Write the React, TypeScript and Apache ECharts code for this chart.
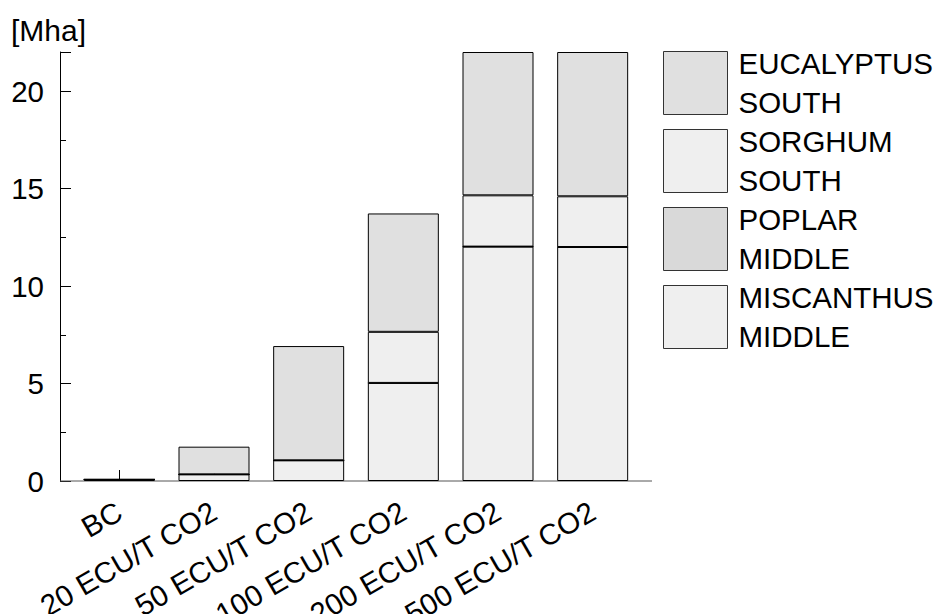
import React, { useEffect, useRef } from "react";
import * as echarts from "echarts";

const categories = ["BC", "20 ECU/T CO2", "50 ECU/T CO2", "100 ECU/T CO2", "200 ECU/T CO2", "500 ECU/T CO2"];
const miscanthusMiddle = [0.08, 0.34, 1.06, 5.03, 12.02, 12.0];
const poplarMiddle = [0, 0, 0, 0, 0, 0];
const sorghumSouth = [0, 0, 0, 2.62, 2.63, 2.6];
const eucalyptusSouth = [0, 1.42, 5.86, 6.07, 7.35, 7.4];
const yTicks = [0, 5, 10, 15, 20];
const yMax = 22;

const FONT = "'Liberation Sans', Arial, sans-serif";
const FS = 29.5;

export default function App() {
  const ref = useRef<HTMLDivElement>(null);
  useEffect(() => {
    document.body.style.margin = "0";
    const chart = echarts.init(ref.current!, null, { renderer: "svg" });
    const mk = (name: string, data: number[], color: string) => ({
      name,
      type: "bar",
      stack: "total",
      data,
      barWidth: 71,
      itemStyle: { color, borderColor: "#000", borderWidth: 1 },
    });
    chart.setOption({
      animation: false,
      textStyle: { fontFamily: FONT },
      grid: { left: 72, right: 304, top: 52, bottom: 133, containLabel: false, outerBoundsMode: "none" },
      xAxis: {
        type: "category",
        data: categories,
        axisLine: { show: false },
        axisTick: { show: true, inside: true, length: 11, alignWithLabel: true, interval: 0, lineStyle: { color: "#000" } },
        axisLabel: { rotate: 30, interval: 0, fontSize: FS, color: "#000", margin: 28, fontFamily: FONT },
      },
      yAxis: {
        type: "value",
        min: 0,
        max: yMax,
        interval: 5,
        offset: 12,
        splitLine: { show: false },
        axisLine: { show: true, lineStyle: { color: "#000" } },
        axisTick: { show: true, inside: true, length: 11, lineStyle: { color: "#000" } },
        minorTick: { show: true, splitNumber: 2, length: 6, lineStyle: { color: "#000" } },
        axisLabel: {
          fontSize: FS,
          color: "#000",
          margin: 16,
          fontFamily: FONT,
          formatter: (v: number) => (yTicks.includes(v) ? String(v) : ""),
        },
      },
      legend: {
        orient: "vertical",
        left: 663,
        top: 44,
        padding: 0,
        itemWidth: 64,
        itemHeight: 63,
        itemGap: 0,
        icon: "rect",
        data: ["EUCALYPTUS\nSOUTH", "SORGHUM\nSOUTH", "POPLAR\nMIDDLE", "MISCANTHUS\nMIDDLE"],
        itemStyle: { borderColor: "#333", borderWidth: 1 },
        textStyle: { fontSize: FS, lineHeight: 39, color: "#000", fontFamily: FONT, padding: [0, 0, 0, 6] },
      },
      graphic: [
        { type: "line", shape: { x1: 60, y1: 481, x2: 652, y2: 481 }, style: { stroke: "#555", lineWidth: 1 }, z: 1 },
        { type: "text", left: 11, top: 15, style: { text: "[Mha]", fontSize: 30, fill: "#000", fontFamily: FONT } },
      ],
      series: [
        mk("MISCANTHUS\nMIDDLE", miscanthusMiddle, "#efefef"),
        mk("POPLAR\nMIDDLE", poplarMiddle, "#d9d9d9"),
        mk("SORGHUM\nSOUTH", sorghumSouth, "#efefef"),
        mk("EUCALYPTUS\nSOUTH", eucalyptusSouth, "#e0e0e0"),
      ],
    });
    return () => chart.dispose();
  }, []);
  return <div ref={ref} style={{ position: "absolute", left: 0, top: 0, width: 944, height: 614 }} />;
}
